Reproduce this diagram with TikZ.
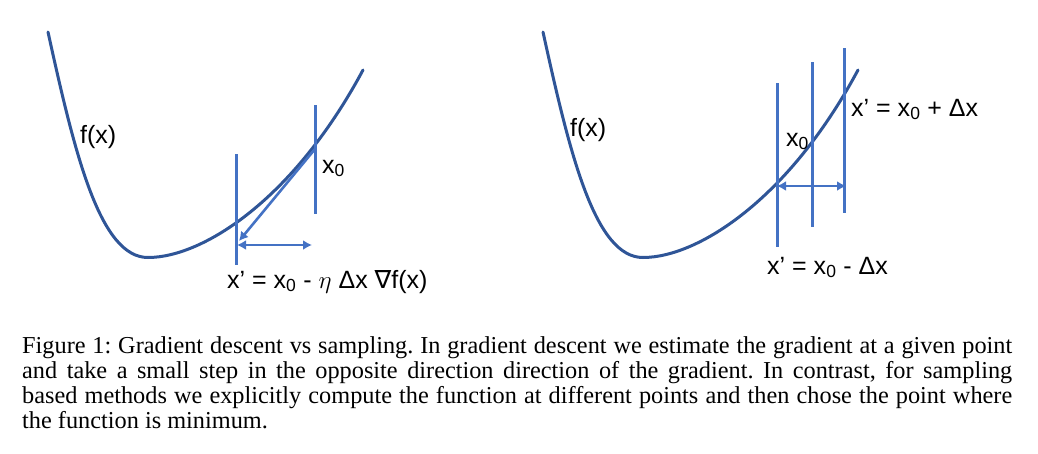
\documentclass[tikz,border=0pt]{standalone}
\usepackage{fontspec}
\setmainfont{Liberation Serif}
\newfontfamily\lblfont{Liberation Sans}
\newfontfamily\symfont{DejaVu Sans}
\usetikzlibrary{arrows.meta}
\definecolor{curvecol}{RGB}{47,85,151}
\definecolor{linecol}{RGB}{68,114,196}
\tikzset{
  fcurve/.style={draw=curvecol, line width=3pt, line cap=round},
  vline/.style={draw=linecol, line width=3pt},
  steparrow/.style={draw=linecol, line width=2.6pt, -{Latex[length=9pt,width=10pt]}},
  dblarrow/.style={draw=linecol, line width=2.6pt, {Latex[length=9pt,width=10pt]}-{Latex[length=9pt,width=10pt]}},
  lbl/.style={font=\lblfont\fontsize{25}{29}\selectfont, inner sep=0pt, anchor=base west},
  captionbox/.style={font=\fontsize{24.3}{25}\selectfont, text width=990pt, align=justify, inner sep=0pt, anchor=north west}
}
\newcommand{\xsub}{x\textsubscript{0}}
\begin{document}
\begin{tikzpicture}[x=1pt, y=-1pt]
\useasboundingbox (0,0) rectangle (1038,453);
% ---------- left panel ----------
\draw[fcurve] (48,32) .. controls (75,155) and (100,257.5) .. (148,257.5) .. controls (203,257.5) and (294,199) .. (363,70);
\coordinate (Lx0) at (315,149);
\coordinate (Lx0t) at (315,105);
\coordinate (Lx0b) at (315,214);
\coordinate (Lxpt) at (236,154);
\coordinate (Lxpb) at (236,265);
\coordinate (Ltip) at (239,241);
\coordinate (Lha) at (237,245);
\coordinate (Lhb) at (312,245);
\draw[vline] (Lx0t) -- (Lx0b);
\draw[vline] (Lxpt) -- (Lxpb);
\draw[steparrow] (Lx0) -- (Ltip);
\draw[dblarrow] (Lha) -- (Lhb);
\node[lbl] (Lf) at (80,143) {f(x)};
\node[lbl] (Lx0lbl) at (322,173) {\xsub};
\node[lbl] (Lform) at (227,288) {x’ = \xsub{} - $\eta$ Δx {\symfont ∇}f(x)};
% ---------- right panel ----------
\begin{scope}[xshift=495pt]
\draw[fcurve] (48,32) .. controls (75,155) and (100,257.5) .. (148,257.5) .. controls (203,257.5) and (294,199) .. (363,70);
\end{scope}
\coordinate (Rat) at (777,83);
\coordinate (Rab) at (777,247);
\coordinate (Rbt) at (812,62);
\coordinate (Rbb) at (812,227);
\coordinate (Rct) at (844,48);
\coordinate (Rcb) at (844,213);
\coordinate (Rha) at (777,186);
\coordinate (Rhb) at (846,186);
\draw[vline] (Rat) -- (Rab);
\draw[vline] (Rbt) -- (Rbb);
\draw[vline] (Rct) -- (Rcb);
\draw[dblarrow] (Rha) -- (Rhb);
\node[lbl] (Rf) at (570,136) {f(x)};
\node[lbl] (Rx0lbl) at (786,146) {\xsub};
\node[lbl] (Rplus) at (851,116) {x’ = \xsub{} + Δx};
\node[lbl] (Rminus) at (767,274) {x’ = \xsub{} - Δx};
% ---------- caption ----------
\node[captionbox] (cap) at (22,336.5) {\frenchspacing Figure 1: Gradient descent vs sampling. In gradient descent we estimate the gradient at a given point\linebreak and take a small step in the opposite direction direction of the gradient. In contrast, for sampling\linebreak based methods we explicitly compute the function at different points and then chose the point where\linebreak the function is minimum.};
\end{tikzpicture}
\end{document}
